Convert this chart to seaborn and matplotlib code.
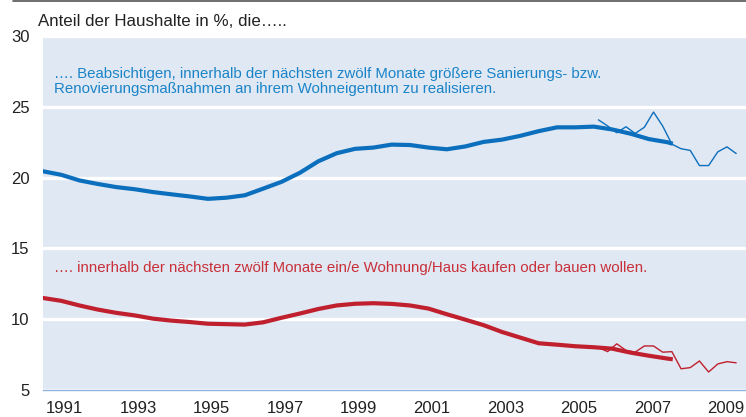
import numpy as np
import pandas as pd
import matplotlib
matplotlib.use("Agg")
import matplotlib.pyplot as plt
import seaborn as sns
from matplotlib.lines import Line2D

# ---------------- data ----------------
years_trend = [1991.0, 1991.5, 1992.0, 1992.5, 1993.0, 1993.5, 1994.0, 1994.5,
               1995.0, 1995.5, 1996.0, 1996.5, 1997.0, 1997.5, 1998.0, 1998.5,
               1999.0, 1999.5, 2000.0, 2000.5, 2001.0, 2001.5, 2002.0, 2002.5,
               2003.0, 2003.5, 2004.0, 2004.5, 2005.0, 2005.5, 2006.0, 2006.5,
               2007.0, 2007.5, 2008.0, 2008.15]
renov_trend = [20.45, 20.2, 19.8, 19.55, 19.33, 19.18, 18.98, 18.82,
               18.67, 18.5, 18.58, 18.75, 19.22, 19.7, 20.34, 21.15,
               21.72, 22.03, 22.12, 22.33, 22.3, 22.12, 22.0, 22.2,
               22.52, 22.68, 22.95, 23.28, 23.55, 23.55, 23.6, 23.4,
               23.1, 22.72, 22.5, 22.39]
kauf_trend = [11.5, 11.3, 10.97, 10.68, 10.45, 10.27, 10.04, 9.9,
              9.8, 9.68, 9.65, 9.62, 9.78, 10.1, 10.4, 10.72,
              10.97, 11.09, 11.13, 11.08, 10.97, 10.75, 10.35, 9.97,
              9.58, 9.1, 8.7, 8.3, 8.2, 8.09, 8.02, 7.92,
              7.64, 7.42, 7.22, 7.17]

years_recent = [2006.125, 2006.375, 2006.625, 2006.875, 2007.125, 2007.375,
                2007.625, 2007.875, 2008.125, 2008.375, 2008.625, 2008.875,
                2009.125, 2009.375, 2009.625, 2009.875]
renov_recent = [24.08, 23.65, 23.17, 23.59, 23.12, 23.55, 24.63, 23.64,
                22.36, 22.04, 21.92, 20.85, 20.85, 21.82, 22.17, 21.7]
kauf_recent = [8.0, 7.71, 8.26, 7.8, 7.67, 8.11, 8.11, 7.67,
               7.71, 6.5, 6.58, 7.05, 6.27, 6.84, 7.0, 6.92]

y_ticks = [5, 10, 15, 20, 25, 30]
x_label_years = [1991, 1993, 1995, 1997, 1999, 2001, 2003, 2005, 2007, 2009]

title_text = "Anteil der Haushalte in %, die….."
renov_text_1 = "…. Beabsichtigen, innerhalb der nächsten zwölf Monate größere Sanierungs- bzw."
renov_text_2 = "Renovierungsmaßnahmen an ihrem Wohneigentum zu realisieren."
kauf_text = "…. innerhalb der nächsten zwölf Monate ein/e Wohnung/Haus kaufen oder bauen wollen."

# ---------------- style ----------------
sns.set_theme(style="white")
plt.rcParams['font.family'] = ['Liberation Sans', 'DejaVu Sans']

BLUE = "#0b6fbd"
BLUE_TXT = "#1b84c8"
RED = "#c0202e"
RED_TXT = "#c8303a"
BG = "#e0e8f3"
AXIS_BLUE = "#8fb2de"

W, H = 746, 417
fig = plt.figure(figsize=(W / 100, H / 100), dpi=100)
ax = fig.add_axes([42.7 / W, 1 - 390 / H, 1 - 42.7 / W, (390 - 36) / H])
ax.set_facecolor(BG)

df_trend = pd.DataFrame({"year": years_trend, "renov": renov_trend, "kauf": kauf_trend})
df_recent = pd.DataFrame({"year": years_recent, "renov": renov_recent, "kauf": kauf_recent})

sns.lineplot(data=df_recent, x="year", y="renov", ax=ax, color=BLUE, lw=1.0, zorder=3)
sns.lineplot(data=df_recent, x="year", y="kauf", ax=ax, color=RED, lw=1.0, zorder=3)
sns.lineplot(data=df_trend, x="year", y="renov", ax=ax, color=BLUE, lw=3.0, zorder=4,
             solid_capstyle="butt")
sns.lineplot(data=df_trend, x="year", y="kauf", ax=ax, color=RED, lw=3.0, zorder=4,
             solid_capstyle="butt")

x0 = 1991.0
x1 = 1991.0 + (W - 42.7) / 36.74
ax.set_xlim(x0, x1)
ax.set_ylim(5, 30)

# grid
ax.set_yticks(y_ticks)
ax.set_yticklabels([str(t) for t in y_ticks], fontsize=12, color="#222222")
ax.yaxis.grid(True, color="white", lw=2.4)
ax.set_axisbelow(True)
ax.tick_params(axis="y", length=0, pad=9.5)

# x ticks: year boundaries as major ticks, labels centred in the year
ax.set_xticks(list(range(1991, 2011)))
ax.set_xticklabels([])
ax.set_xticks([y + 0.6 for y in x_label_years], minor=True)
ax.set_xticklabels([str(y) for y in x_label_years], minor=True, fontsize=12, color="#222222")
ax.tick_params(axis="x", which="major", length=6, width=1, color=AXIS_BLUE, direction="out")
ax.tick_params(axis="x", which="minor", length=0, pad=8)
ax.xaxis.grid(False)

for s in ["top", "right", "left"]:
    ax.spines[s].set_visible(False)
ax.spines["bottom"].set_color(AXIS_BLUE)
ax.spines["bottom"].set_linewidth(1)
ax.set_xlabel("")
ax.set_ylabel("")

# annotations
tx = 1991.0 + (54 - 42.7) / 36.74
ax.text(tx, 27.01, renov_text_1, color=BLUE_TXT, fontsize=10.8, va="baseline", ha="left")
ax.text(tx, 26.0, renov_text_2, color=BLUE_TXT, fontsize=10.8, va="baseline", ha="left")
ax.text(tx, 13.32, kauf_text, color=RED_TXT, fontsize=10.8, va="baseline", ha="left")

fig.text(38 / W, 1 - 26.5 / H, title_text, fontsize=12.2, color="#222222",
         ha="left", va="baseline")

fig.add_artist(Line2D([13 / W, 1], [1 - 0.8 / H, 1 - 0.8 / H], transform=fig.transFigure,
                      color="#555555", lw=1.2))

fig.savefig("out.png", dpi=100, facecolor="white")
